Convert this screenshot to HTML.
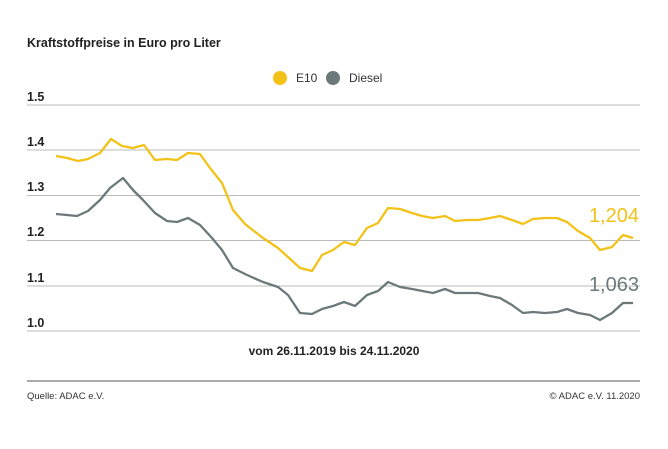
<!DOCTYPE html>
<html><head><meta charset="utf-8"><style>
body{margin:0;width:668px;height:444px;background:#fff;overflow:hidden;font-family:"Liberation Sans",sans-serif}
</style></head><body>
<svg width="668" height="444" xmlns="http://www.w3.org/2000/svg" font-family="Liberation Sans, sans-serif">
<text x="27" y="47" font-size="12.5" font-weight="bold" fill="#222">Kraftstoffpreise in Euro pro Liter</text>
<circle cx="280" cy="78" r="7" fill="#f3c219"/>
<text x="296" y="82" font-size="12" fill="#333">E10</text>
<circle cx="333" cy="78" r="7" fill="#6b797b"/>
<text x="349" y="82" font-size="12" fill="#333">Diesel</text>
<g stroke="#bbb" stroke-width="1">
<line x1="27" x2="640" y1="105" y2="105"/><line x1="27" x2="640" y1="150" y2="150"/>
<line x1="27" x2="640" y1="195.5" y2="195.5"/><line x1="27" x2="640" y1="240.5" y2="240.5"/>
<line x1="27" x2="640" y1="286" y2="286"/><line x1="27" x2="640" y1="331" y2="331"/>
</g>
<g font-size="12.5" font-weight="bold" fill="#222">
<text x="27" y="101">1.5</text><text x="27" y="146">1.4</text><text x="27" y="191">1.3</text>
<text x="27" y="236">1.2</text><text x="27" y="282">1.1</text><text x="27" y="327">1.0</text>
</g>
<polyline fill="none" stroke="#f3c219" stroke-width="2.3" stroke-linejoin="round" points="56,156 67,158 78,161 88,159 100,153 111,139 122,146 133,148 144,145 155,160 167,159 177,160 188,153 200,154 210,168 222,183 233,210 245,224 263,238 278,248 288,257 300,268 312,271 322,255 333,250 344,242 355,245 367,228 378,223 388,208 400,209 412,213 422,216 433,218 445,216 455,221 467,220 478,220 490,218 500,216 512,220 523,224 533,219 545,218 557,218 567,222 578,231 590,238 600,250 612,247 623,235 633,238"/>
<polyline fill="none" stroke="#6b797b" stroke-width="2.3" stroke-linejoin="round" points="56,214 67,215 77,216 88,211 100,200 110,188 123,178 133,190 143,200 155,213 167,221 177,222 188,218 200,225 212,238 222,250 233,268 247,275 263,282 278,287 288,295 300,313 312,314 322,309 333,306 344,302 355,306 367,295 378,291 388,282 400,287 412,289 433,293 445,289 455,293 467,293 478,293 490,296 500,298 512,305 523,313 533,312 545,313 557,312 567,309 578,313 590,315 600,320 612,313 623,303 633,303"/>
<text x="639" y="222" font-size="20" fill="#f3c219" text-anchor="end">1,204</text>
<text x="639" y="291" font-size="20" fill="#6b797b" text-anchor="end">1,063</text>
<text x="334" y="355" font-size="12" font-weight="bold" fill="#222" text-anchor="middle">vom 26.11.2019 bis 24.11.2020</text>
<line x1="27" x2="640" y1="381" y2="381" stroke="#555" stroke-width="1"/>
<text x="27" y="399" font-size="9.5" fill="#333">Quelle: ADAC e.V.</text>
<text x="640" y="399" font-size="9.5" fill="#333" text-anchor="end">© ADAC e.V. 11.2020</text>
</svg>
</body></html>
